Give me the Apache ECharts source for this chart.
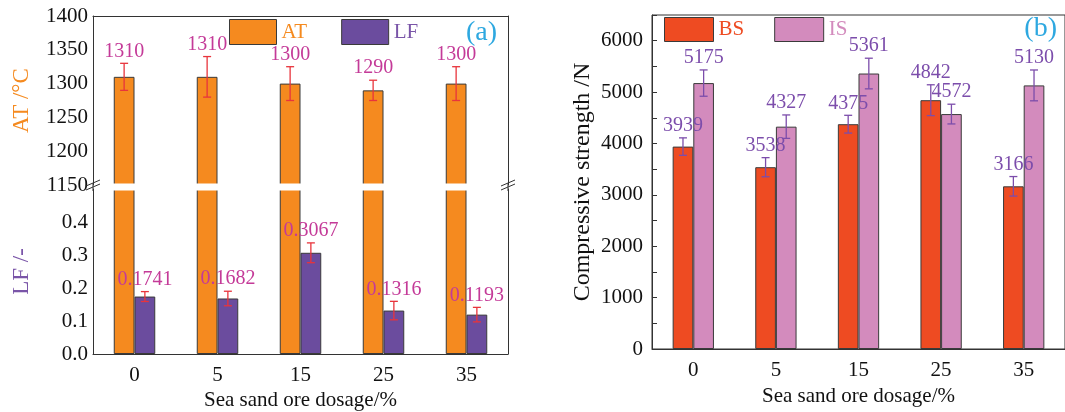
<!DOCTYPE html>
<html>
<head>
<meta charset="utf-8">
<script src="https://cdn.jsdelivr.net/npm/echarts@6/dist/echarts.min.js"></script>
<style>
html,body{margin:0;padding:0;background:#fff;}
#chart{width:1065px;height:412px;}
</style>
</head>
<body>
<div id="chart"></div>
<script>
// ---- data ----
const categories = ['0', '5', '15', '25', '35'];
const atValues = [1310, 1310, 1300, 1290, 1300];
const atErrors = [20, 30, 25, 15, 25];
const lfValues = [0.1741, 0.1682, 0.3067, 0.1316, 0.1193];
const lfErrors = [0.015, 0.022, 0.030, 0.028, 0.022];
const bsValues = [3939, 3538, 4375, 4842, 3166];
const bsErrors = [170, 186, 173, 300, 190];
const isValues = [5175, 4327, 5361, 4572, 5130];
const isErrors = [256, 228, 298, 192, 300];
const atAxisRange = [1150, 1400, 50];
const lfAxisRange = [0, 0.5, 0.1];
const csAxisRange = [0, 6500, 500];
const csLabelStep = 1000;

// ---- layout ----
const A = {left: 93, right: 508, top: 16, breakTop: 185, breakBottom: 189, bottom: 354};
const B = {left: 652, right: 1068, top: 15, bottom: 352};
const FONT = 'Liberation Serif';
const C = {
  at: '#f58a1f', lf: '#6b4c9e', bs: '#ee4b22', is: '#d38bbd',
  errA: '#e8343c', labA: '#c43a98', errB: '#7c4dab', labB: '#7c4dab',
  border: '#3a3a3a', axis: '#333', tag: '#2ea8e0', lfText: '#7a55a8'
};
const CAT_GAP = 0.5;

const chart = echarts.init(document.getElementById('chart'), null, {renderer: 'canvas'});

function errSeries(name, xi, yi, vals, errs, slot, errColor, labColor, fmt) {
  return {
    type: 'custom', name: name, xAxisIndex: xi, yAxisIndex: yi, z: 10,
    data: vals.map((v, i) => [i, v, errs[i]]),
    encode: {x: 0, y: 1},
    renderItem: function (params, api) {
      const idx = api.value(0), v = api.value(1), e = api.value(2);
      const band = api.size([1, 0])[0];
      const w = band * (1 - CAT_GAP) / 2;
      const off = slot * w / 2;
      const pt = api.coord([idx, v + e]);
      const pb = api.coord([idx, v - e]);
      const x = pt[0] + off;
      const cap = 4;
      const st = {stroke: errColor, lineWidth: 1.3};
      return {
        type: 'group',
        children: [
          {type: 'line', shape: {x1: x, y1: pt[1], x2: x, y2: pb[1]}, style: st},
          {type: 'line', shape: {x1: x - cap, y1: pt[1], x2: x + cap, y2: pt[1]}, style: st},
          {type: 'line', shape: {x1: x - cap, y1: pb[1], x2: x + cap, y2: pb[1]}, style: st},
          {type: 'text', style: {text: fmt(v), x: x, y: pt[1] - 2, fill: labColor,
            fontFamily: FONT, fontSize: 20, align: 'center', verticalAlign: 'bottom'}}
        ]
      };
    }
  };
}

const barStyle = (c) => ({color: c, borderColor: C.border, borderWidth: 1});
const hiddenCat = (gi, pos) => ({
  type: 'category', gridIndex: gi, data: categories, position: pos,
  axisLine: {show: true, lineStyle: {color: C.axis}}, axisTick: {show: false},
  axisLabel: {show: false}, splitLine: {show: false}
});
const frameY = (gi, min, max) => ({
  type: 'value', gridIndex: gi, position: 'right', min: min, max: max,
  axisLine: {show: true, lineStyle: {color: C.axis}}, axisTick: {show: false},
  axisLabel: {show: false}, splitLine: {show: false}
});
const tickLabel = {fontFamily: FONT, fontSize: 21, color: '#111'};

const option = {
  animation: false,
  backgroundColor: '#fff',
  textStyle: {fontFamily: FONT},
  grid: [
    {left: A.left, width: A.right - A.left, top: A.top, height: A.breakTop - A.top},
    {left: A.left, width: A.right - A.left, top: A.breakBottom, height: A.bottom - A.breakBottom},
    {left: B.left, width: B.right - B.left, top: B.top, height: B.bottom - B.top,
      show: true, borderColor: C.axis, borderWidth: 1}
  ],
  legend: [
    {left: 229, top: 19, padding: 0, itemWidth: 47, itemHeight: 25, itemGap: 34,
      icon: 'rect', itemStyle: {borderColor: C.border, borderWidth: 1},
      textStyle: {fontFamily: FONT, fontSize: 21},
      data: [{name: 'AT', textStyle: {color: C.at}}, {name: 'LF', textStyle: {color: C.lfText}}]},
    {left: 664, top: 17, padding: 0, itemWidth: 49, itemHeight: 24, itemGap: 30,
      icon: 'rect', itemStyle: {borderColor: C.border, borderWidth: 1},
      textStyle: {fontFamily: FONT, fontSize: 21},
      data: [{name: 'BS', textStyle: {color: C.bs}}, {name: 'IS', textStyle: {color: C.is}}]}
  ],
  xAxis: [
    hiddenCat(0, 'top'),
    {type: 'category', gridIndex: 1, data: categories, position: 'bottom',
      axisLine: {show: true, lineStyle: {color: C.axis}}, axisTick: {show: false},
      axisLabel: Object.assign({margin: 11}, tickLabel),
      name: 'Sea sand ore dosage/%', nameLocation: 'middle', nameGap: 36,
      nameTextStyle: {fontFamily: FONT, fontSize: 21, color: '#111'}},
    {type: 'category', gridIndex: 2, data: categories, position: 'bottom',
      axisLine: {show: true, lineStyle: {color: C.axis}}, axisTick: {show: false},
      axisLabel: Object.assign({margin: 11}, tickLabel),
      name: 'Sea sand ore dosage/%', nameLocation: 'middle', nameGap: 37,
      nameTextStyle: {fontFamily: FONT, fontSize: 21, color: '#111'}}
  ],
  yAxis: [
    {type: 'value', gridIndex: 0, min: atAxisRange[0], max: atAxisRange[1], interval: atAxisRange[2],
      axisLine: {show: true, lineStyle: {color: C.axis}}, axisTick: {show: false},
      axisLabel: Object.assign({margin: 5, formatter: v => String(v)}, tickLabel), splitLine: {show: false},
      name: 'AT /°C', nameLocation: 'middle', nameGap: 60, nameRotate: 90,
      nameTextStyle: {fontFamily: FONT, fontSize: 23, color: C.at}},
    frameY(0, atAxisRange[0], atAxisRange[1]),
    {type: 'value', gridIndex: 1, min: lfAxisRange[0], max: lfAxisRange[1], interval: lfAxisRange[2],
      axisLine: {show: true, lineStyle: {color: C.axis}}, axisTick: {show: false},
      axisLabel: Object.assign({margin: 5, showMaxLabel: false, formatter: v => v.toFixed(1)}, tickLabel),
      splitLine: {show: false},
      name: 'LF /-', nameLocation: 'middle', nameGap: 60, nameRotate: 90,
      nameTextStyle: {fontFamily: FONT, fontSize: 23, color: C.lfText}},
    frameY(1, 0, atAxisRange[0]),
    {type: 'value', gridIndex: 2, min: csAxisRange[0], max: csAxisRange[1], interval: csAxisRange[2],
      axisLine: {show: true, lineStyle: {color: C.axis}},
      axisTick: {show: true, inside: true, length: 5, lineStyle: {color: C.axis}},
      axisLabel: Object.assign({margin: 9, formatter: v => (v % csLabelStep === 0 ? String(v) : '')}, tickLabel),
      splitLine: {show: false},
      name: 'Compressive strength /N', nameLocation: 'middle', nameGap: 57, nameRotate: 90,
      nameTextStyle: {fontFamily: FONT, fontSize: 24, color: '#111'}}
  ],
  series: [
    {type: 'bar', name: 'AT', xAxisIndex: 0, yAxisIndex: 0, data: atValues, barGap: '0%',
      barCategoryGap: (CAT_GAP * 100) + '%', itemStyle: barStyle(C.at), clip: true},
    {type: 'bar', name: 'LF', xAxisIndex: 0, yAxisIndex: 0, data: lfValues.map(() => '-'), barGap: '0%',
      barCategoryGap: (CAT_GAP * 100) + '%', itemStyle: barStyle(C.lf), clip: true},
    {type: 'bar', name: 'AT', xAxisIndex: 1, yAxisIndex: 3, data: atValues, barGap: '0%',
      barCategoryGap: (CAT_GAP * 100) + '%', itemStyle: barStyle(C.at), clip: true},
    {type: 'bar', name: 'LF', xAxisIndex: 1, yAxisIndex: 2, data: lfValues, barGap: '0%',
      barCategoryGap: (CAT_GAP * 100) + '%', itemStyle: barStyle(C.lf), clip: true},
    {type: 'bar', name: 'BS', xAxisIndex: 2, yAxisIndex: 4, data: bsValues, barGap: '0%',
      barCategoryGap: (CAT_GAP * 100) + '%', itemStyle: barStyle(C.bs)},
    {type: 'bar', name: 'IS', xAxisIndex: 2, yAxisIndex: 4, data: isValues, barGap: '0%',
      barCategoryGap: (CAT_GAP * 100) + '%', itemStyle: barStyle(C.is)},
    errSeries('AT err', 0, 0, atValues, atErrors, -1, C.errA, C.labA, v => String(v)),
    errSeries('LF err', 1, 2, lfValues, lfErrors, 1, C.errA, C.labA, v => v.toFixed(4)),
    errSeries('BS err', 2, 4, bsValues, bsErrors, -1, C.errB, C.labB, v => String(v)),
    errSeries('IS err', 2, 4, isValues, isErrors, 1, C.errB, C.labB, v => String(v))
  ],
  graphic: (function () {
    const g = [];
    const ls = {stroke: C.axis, lineWidth: 1};
    // white band hiding the cut edges of the broken bars
    g.push({type: 'rect', z: 15, shape: {x: A.left + 1, y: A.breakTop - 1.5, width: A.right - A.left - 2,
      height: A.breakBottom - A.breakTop + 3}, style: {fill: '#fff'}});
    [A.left, A.right].forEach(function (x) {
      g.push({type: 'line', z: 20, shape: {x1: x, y1: A.breakTop - 2, x2: x, y2: A.breakBottom + 2}, style: ls});
      g.push({type: 'line', z: 20, shape: {x1: x - 7, y1: A.breakTop + 1, x2: x + 7, y2: A.breakTop - 5}, style: ls});
      g.push({type: 'line', z: 20, shape: {x1: x - 7, y1: A.breakBottom + 1, x2: x + 7, y2: A.breakBottom - 5}, style: ls});
    });
    g.push({type: 'text', z: 20, style: {text: '(a)', x: A.right - 11, y: 33, align: 'right', verticalAlign: 'middle',
      fill: C.tag, fontFamily: FONT, fontSize: 28}});
    g.push({type: 'text', z: 20, style: {text: '(b)', x: 1057, y: 29, align: 'right', verticalAlign: 'middle',
      fill: C.tag, fontFamily: FONT, fontSize: 28}});
    return g;
  })()
};
chart.setOption(option);
</script>
</body>
</html>
